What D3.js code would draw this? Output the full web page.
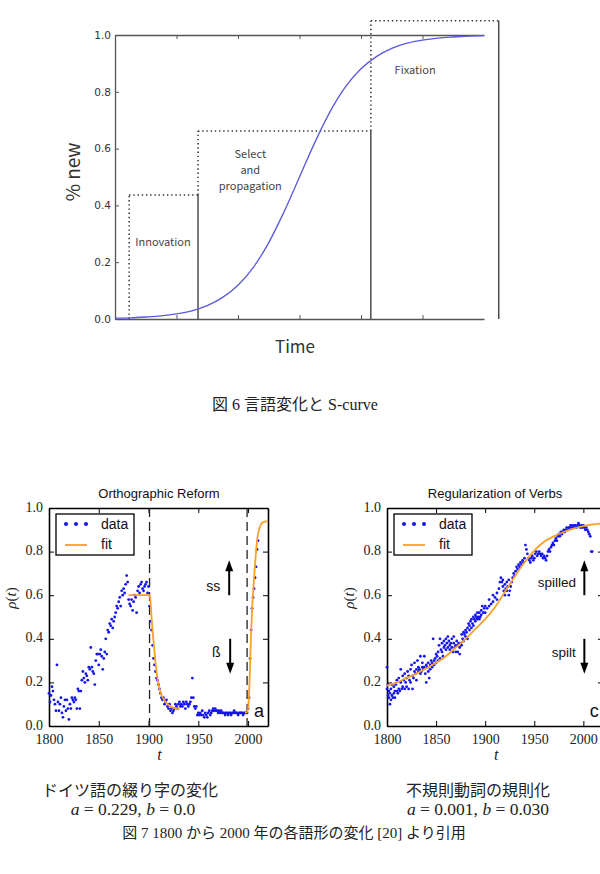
<!DOCTYPE html>
<html><head><meta charset="utf-8">
<script src="https://cdn.jsdelivr.net/npm/d3@7"></script>
<style>body{margin:0;background:#fff}</style>
</head><body><svg id="c" width="600" height="874" xmlns="http://www.w3.org/2000/svg"></svg>
<script>
// ---------- Figure 6: S-curve ----------
const sTimes  = [0,0.25,0.5,0.75,1,1.25,1.5,1.75,2,2.25,2.5,2.75,3,3.25,3.5,3.75,4,4.25,4.5,4.75,5,5.25,5.5,5.75,6];
const sValues = [0.003,0.004,0.007,0.011,0.018,0.029,0.047,0.076,0.119,0.182,0.269,0.378,0.5,0.622,0.731,0.818,0.881,0.924,0.953,0.971,0.982,0.989,0.993,0.996,0.998];
const sTicksY = [0,0.2,0.4,0.6,0.8,1.0];
const sTicksX = [1,2,3,4,5];
const stageEdges = [0.23,1.35,4.16,6.24];
const stageTops  = [0.437,0.662,1.05];
const stageLabels = [["Innovation"],["Select","and","propagation"],["Fixation"]];
const stageLabelPos = [[0.78,0.27],[2.2,0.58],[4.88,0.877]];

// ---------- Figure 7a: Orthographic Reform ----------
const ortData = [[1800,.15],[1801,.11],[1802,.14],[1803,.18],[1804,.16],[1805,.12],[1806,.10],[1807,.07],[1808,.28],[1809,.11],
[1810,.07],[1811,.10],[1812,.13],[1813,.06],[1814,.04],[1815,.09],[1816,.12],[1817,.07],[1818,.12],[1819,.08],
[1820,.03],[1821,.10],[1822,.08],[1823,.13],[1824,.12],[1825,.11],[1826,.13],[1827,.12],[1828,.08],[1829,.17],
[1830,.16],[1831,.08],[1832,.16],[1833,.21],[1834,.25],[1835,.22],[1836,.20],[1837,.24],[1838,.23],[1839,.21],
[1840,.27],[1841,.26],[1842,.36],[1843,.27],[1844,.25],[1845,.24],[1846,.19],[1847,.30],[1848,.33],[1849,.33],
[1850,.28],[1851,.33],[1852,.35],[1853,.32],[1854,.26],[1855,.31],[1856,.34],[1857,.40],[1858,.33],[1859,.44],
[1860,.43],[1861,.47],[1862,.46],[1863,.49],[1864,.45],[1865,.48],[1866,.50],[1867,.52],[1868,.55],[1869,.54],
[1870,.57],[1871,.59],[1872,.55],[1873,.62],[1874,.60],[1875,.63],[1876,.61],[1877,.65],[1878,.69],[1879,.66],
[1880,.58],[1881,.56],[1882,.55],[1883,.58],[1884,.53],[1885,.57],[1886,.60],[1887,.59],[1888,.52],[1889,.62],
[1890,.64],[1891,.61],[1892,.65],[1893,.66],[1894,.63],[1895,.62],[1896,.64],[1897,.65],[1898,.66],[1899,.61],
[1900,.64],[1901,.55],[1902,.48],[1903,.44],[1904,.37],[1905,.31],[1906,.28],[1907,.25],[1908,.22],[1909,.21],
[1910,.19],[1911,.17],[1912,.15],[1913,.13],[1914,.12],[1915,.13],[1916,.10],[1917,.11],[1918,.12],[1919,.09],
[1920,.08],[1921,.10],[1922,.07],[1923,.08],[1924,.06],[1925,.07],[1926,.08],[1927,.10],[1928,.09],[1929,.08],
[1930,.10],[1931,.11],[1932,.09],[1933,.10],[1934,.09],[1935,.11],[1936,.10],[1937,.08],[1938,.11],[1939,.10],
[1940,.09],[1941,.10],[1942,.11],[1943,.13],[1944,.22],[1945,.13],[1946,.09],[1947,.08],[1948,.09],[1949,.05],
[1950,.06],[1951,.05],[1952,.06],[1953,.05],[1954,.07],[1955,.05],[1956,.04],[1957,.06],[1958,.05],[1959,.04],
[1960,.06],[1961,.07],[1962,.05],[1963,.06],[1964,.07],[1965,.08],[1966,.07],[1967,.08],[1968,.07],[1969,.07],
[1970,.06],[1971,.07],[1972,.06],[1973,.07],[1974,.06],[1975,.06],[1976,.06],[1977,.05],[1978,.06],[1979,.06],
[1980,.05],[1981,.06],[1982,.06],[1983,.05],[1984,.06],[1985,.06],[1986,.07],[1987,.06],[1988,.06],[1989,.06],
[1990,.05],[1991,.06],[1992,.06],[1993,.06],[1994,.06],[1995,.05],[1996,.06],[1997,.06],[1998,.06],[1999,.06],
[2000,.08],[2001,.13],[2002,.31],[2003,.44],[2004,.54],[2005,.59],[2006,.63],[2007,.68],[2008,.73],[2009,.81],[2010,.85]];
const ortFitA = [[1880,.6],[1901,.6],[1902,.57],[1903,.50],[1904,.44],[1905,.39],[1906,.34],[1907,.29],[1908,.25],[1910,.19],[1912,.155],[1915,.125],[1918,.105],[1922,.09],[1926,.082],[1931,.08]];
const ortFitB = [[1997,.06],[1999,.065],[2000,.08],[2001,.15],[2002,.28],[2003,.42],[2004,.53],[2005,.61],[2006,.68],[2007,.74],[2008,.80],[2009,.85],[2010,.88],[2012,.915],[2015,.935],[2020,.94]];
const ortBreaks = [1901,1999];

// ---------- Figure 7c: Regularization of Verbs ----------
const regData = [[1800,.27],[1800,.17],[1801,.14],[1801,.19],[1802,.13],[1802,.16],[1803,.10],[1803,.15],[1804,.12],[1804,.17],
[1805,.14],[1805,.19],[1806,.13],[1807,.15],[1807,.18],[1808,.16],[1808,.13],[1809,.19],[1810,.16],[1810,.21],
[1811,.15],[1812,.17],[1812,.22],[1813,.16],[1814,.20],[1814,.26],[1815,.17],[1816,.23],[1816,.18],[1817,.21],
[1818,.24],[1818,.17],[1819,.20],[1820,.22],[1820,.18],[1821,.25],[1822,.17],[1822,.23],[1823,.21],[1824,.26],
[1824,.20],[1825,.28],[1826,.23],[1826,.17],[1827,.22],[1828,.25],[1828,.29],[1829,.24],[1830,.26],[1830,.21],
[1831,.30],[1832,.25],[1832,.27],[1833,.26],[1834,.32],[1834,.24],[1835,.25],[1836,.27],[1836,.29],[1837,.26],
[1838,.32],[1838,.27],[1839,.24],[1840,.20],[1840,.28],[1841,.27],[1842,.25],[1842,.29],[1843,.22],[1844,.28],
[1844,.26],[1845,.30],[1846,.27],[1846,.29],[1847,.40],[1848,.30],[1848,.28],[1849,.31],[1850,.29],[1850,.33],
[1851,.32],[1852,.30],[1852,.34],[1853,.37],[1854,.40],[1854,.31],[1855,.35],[1856,.34],[1856,.38],[1857,.32],
[1858,.36],[1858,.39],[1859,.37],[1860,.40],[1860,.35],[1861,.38],[1862,.36],[1862,.41],[1863,.39],[1864,.37],
[1864,.35],[1865,.38],[1866,.40],[1866,.36],[1867,.34],[1868,.38],[1868,.41],[1869,.36],[1870,.37],[1870,.34],
[1871,.39],[1872,.34],[1872,.37],[1873,.38],[1874,.36],[1874,.33],[1875,.38],[1876,.42],[1876,.37],[1877,.40],
[1878,.43],[1878,.39],[1879,.42],[1880,.44],[1880,.41],[1881,.43],[1882,.40],[1882,.45],[1883,.47],[1884,.44],
[1884,.46],[1885,.48],[1886,.45],[1886,.49],[1887,.47],[1888,.50],[1888,.46],[1889,.49],[1890,.48],[1890,.51],
[1891,.50],[1892,.49],[1892,.52],[1893,.50],[1894,.52],[1894,.49],[1895,.50],[1896,.53],[1896,.51],[1897,.55],
[1898,.52],[1899,.54],[1900,.52],[1900,.55],[1902,.54],[1904,.55],[1904,.58],[1906,.56],[1908,.60],[1908,.57],
[1910,.59],[1912,.61],[1912,.58],[1914,.63],[1915,.66],[1916,.68],[1917,.66],[1918,.64],[1918,.67],[1919,.62],
[1920,.65],[1920,.60],[1921,.63],[1922,.66],[1922,.62],[1923,.64],[1924,.67],[1924,.60],[1925,.62],[1926,.64],
[1927,.66],[1928,.68],[1929,.70],[1930,.69],[1931,.71],[1932,.73],[1933,.72],[1934,.74],[1935,.73],[1936,.75],
[1937,.74],[1938,.76],[1939,.75],[1940,.77],[1941,.83],[1942,.81],[1943,.79],[1944,.77],[1945,.76],[1946,.75],
[1947,.77],[1948,.78],[1949,.76],[1950,.77],[1951,.79],[1952,.80],[1953,.78],[1954,.79],[1955,.80],[1956,.79],
[1957,.78],[1958,.79],[1959,.77],[1960,.78],[1961,.77],[1962,.76],[1963,.78],[1964,.80],[1965,.81],[1966,.80],
[1967,.82],[1968,.83],[1969,.84],[1970,.83],[1971,.85],[1972,.86],[1973,.85],[1974,.87],[1975,.88],[1976,.87],
[1977,.89],[1978,.88],[1979,.89],[1980,.90],[1981,.89],[1982,.90],[1983,.91],[1984,.90],[1985,.91],[1986,.91],
[1987,.92],[1988,.91],[1989,.92],[1990,.91],[1991,.92],[1992,.92],[1993,.91],[1994,.92],[1995,.93],[1996,.92],
[1997,.91],[1998,.92],[1999,.91],[2000,.92],[2001,.91],[2002,.90],[2003,.91],[2004,.90],[2005,.89],[2006,.88],
[2007,.87],[2008,.80],[2009,.80]];
const regFit = [[1800,.185],[1810,.20],[1820,.22],[1830,.24],[1840,.265],[1850,.29],[1860,.32],[1870,.36],[1880,.40],[1890,.445],[1900,.49],[1910,.545],[1920,.615],[1930,.685],[1940,.75],[1950,.805],[1960,.845],[1970,.87],[1980,.89],[1990,.905],[2000,.917],[2010,.925],[2020,.93]];

const panelYTicks = [0,0.2,0.4,0.6,0.8,1.0];
const panelXTicks = [1800,1850,1900,1950,2000];

const svg = d3.select("#c");
svg.append("rect").attr("width",600).attr("height",874).attr("fill","#fff");

// ================= Top chart =================
const sx = d3.scaleLinear().domain([0,6]).range([115,484]);
const sy = d3.scaleLinear().domain([0,1]).range([319,35]);
const gTop = svg.append("g");
const styleAxis = (g, col, w) => {
  g.select(".domain").attr("stroke",col).attr("stroke-width",w);
  g.selectAll(".tick line").attr("stroke",col).attr("stroke-width",1);
};
gTop.append("g").attr("transform","translate(0,319)")
  .call(d3.axisBottom(sx).tickValues(sTicksX).tickSize(-4).tickSizeOuter(0).tickFormat(""))
  .call(g=>styleAxis(g,"#555",1.3));
gTop.append("g").attr("transform","translate(0,35)")
  .call(d3.axisTop(sx).tickValues(sTicksX).tickSize(-4).tickSizeOuter(0).tickFormat(""))
  .call(g=>styleAxis(g,"#555",1.3));
gTop.append("g").attr("transform","translate(115,0)")
  .call(d3.axisLeft(sy).tickValues(sTicksY).tickFormat(d3.format(".1f")).tickSize(-4).tickSizeOuter(0).tickPadding(4))
  .call(g=>styleAxis(g,"#555",1.3))
  .call(g=>g.selectAll("text").attr("fill","#333").attr("font-size",10.5).attr("font-family","'DejaVu Sans', sans-serif"));

stageTops.forEach((t,i)=>{
  const x0 = stageEdges[i], x1 = stageEdges[i+1];
  const prev = i===0 ? 0 : stageTops[i-1];
  const dotted = {stroke:"#333","stroke-width":1.5,"stroke-dasharray":"1.4,2.8"};
  const l1 = gTop.append("line").attr("x1",sx(x0)).attr("x2",sx(x0)).attr("y1",sy(prev)).attr("y2",sy(t));
  const l2 = gTop.append("line").attr("x1",sx(x0)).attr("x2",sx(x1)).attr("y1",sy(t)).attr("y2",sy(t));
  [l1,l2].forEach(l=>Object.entries(dotted).forEach(([k,v])=>l.attr(k,v)));
  gTop.append("line").attr("x1",sx(x1)).attr("x2",sx(x1)).attr("y1",sy(0)).attr("y2",sy(t))
    .attr("stroke","#333").attr("stroke-width",1.3);
  const lab = stageLabels[i], p = stageLabelPos[i];
  lab.forEach((s,j)=>{
    gTop.append("text").attr("x",sx(p[0])).attr("y",sy(p[1])+j*16).attr("dy","0.35em")
      .attr("text-anchor","middle").attr("font-size",11).attr("fill","#444")
      .attr("font-family","'Noto Sans CJK JP','Noto Sans',sans-serif").text(s);
  });
});

gTop.append("path").datum(d3.zip(sTimes,sValues))
  .attr("d",d3.line().x(d=>sx(d[0])).y(d=>sy(d[1])).curve(d3.curveMonotoneX))
  .attr("fill","none").attr("stroke","#5858e0").attr("stroke-width",1.3);

gTop.append("text").attr("transform","translate(80,172) rotate(-90)").attr("text-anchor","middle")
  .attr("font-size",19).attr("fill","#333").attr("font-family","'Noto Sans CJK JP','Noto Sans',sans-serif").text("% new");
gTop.append("text").attr("x",295).attr("y",353).attr("text-anchor","middle")
  .attr("font-size",17).attr("fill","#333").attr("font-family","'Noto Sans CJK JP','Noto Sans',sans-serif").text("Time");

svg.append("text").attr("x",295).attr("y",410).attr("text-anchor","middle").attr("font-size",16).attr("fill","#222")
  .attr("font-family","'Liberation Serif','Noto Sans CJK JP',serif").text("図 6 言語変化と S-curve");

// ================= Bottom panels =================
function panel(o){
  const x = d3.scaleLinear().domain([1800,2020]).range(o.xr);
  const y = d3.scaleLinear().domain([0,1]).range([726,508]);
  const g = svg.append("g");
  const serif = "'Liberation Serif','DejaVu Serif',serif";
  const sans = "'Liberation Sans',Arial,sans-serif";
  g.append("g").attr("transform","translate(0,726)")
    .call(d3.axisBottom(x).tickValues(panelXTicks).tickFormat(d3.format("d")).tickSize(-5).tickSizeOuter(0).tickPadding(8))
    .call(a=>styleAxis(a,"#000",1.6))
    .call(a=>a.selectAll("text").attr("font-size",14).attr("fill","#222").attr("font-family",serif));
  g.append("g").attr("transform","translate(0,508)")
    .call(d3.axisTop(x).tickValues(panelXTicks).tickFormat("").tickSize(-5).tickSizeOuter(0))
    .call(a=>styleAxis(a,"#000",1.6));
  g.append("g").attr("transform",`translate(${o.xr[0]},0)`)
    .call(d3.axisLeft(y).tickValues(panelYTicks).tickFormat(d3.format(".1f")).tickSize(-5).tickSizeOuter(0).tickPadding(6))
    .call(a=>styleAxis(a,"#000",1.6))
    .call(a=>a.selectAll("text").attr("font-size",14).attr("fill","#222").attr("font-family",serif).attr("dy","0.22em"));
  g.append("g").attr("transform",`translate(${o.xr[1]},0)`)
    .call(d3.axisRight(y).tickValues(panelYTicks).tickFormat("").tickSize(-5).tickSizeOuter(0))
    .call(a=>styleAxis(a,"#000",1.6));

  (o.breaks||[]).forEach(b=>{
    g.append("line").attr("x1",x(b)).attr("x2",x(b)).attr("y1",y(1)).attr("y2",y(0))
      .attr("stroke","#222").attr("stroke-width",1.3).attr("stroke-dasharray","9,5");
  });
  g.append("g").selectAll("circle").data(o.data).join("circle")
    .attr("cx",d=>x(d[0])).attr("cy",d=>y(d[1])).attr("r",1.4).attr("fill","#1414ee");
  const line = d3.line().x(d=>x(d[0])).y(d=>y(d[1])).curve(d3.curveMonotoneX);
  o.fits.forEach(f=>g.append("path").datum(f).attr("d",line).attr("fill","none")
    .attr("stroke","#f7a128").attr("stroke-width",1.8));

  g.append("text").attr("x",o.titleX).attr("y",498).attr("text-anchor","middle").attr("font-size",13)
    .attr("fill","#111").attr("font-family",sans).text(o.title);
  g.append("text").attr("transform",`translate(${o.xr[0]-33},598) rotate(-90)`).attr("text-anchor","middle")
    .attr("font-size",15).attr("fill","#222").attr("font-family",serif)
    .call(t=>{t.append("tspan").attr("font-style","italic").text("ρ");t.append("tspan").text("(");
              t.append("tspan").attr("font-style","italic").text("t");t.append("tspan").text(")");});
  g.append("text").attr("x",(o.xr[0]+x(2000))/2+11).attr("y",760).attr("text-anchor","middle").attr("font-size",16)
    .attr("font-style","italic").attr("fill","#222").attr("font-family",serif).text("t");

  const lx = o.xr[0]+7, ly = 514;
  g.append("rect").attr("x",lx).attr("y",ly).attr("width",78).attr("height",41)
    .attr("fill","#fff").attr("stroke","#000").attr("stroke-width",1.3);
  [10,20,30].forEach(dx=>g.append("circle").attr("cx",lx+dx).attr("cy",ly+10).attr("r",2).attr("fill","#1414ee"));
  g.append("line").attr("x1",lx+9).attr("x2",lx+31).attr("y1",ly+31).attr("y2",ly+31).attr("stroke","#f7a128").attr("stroke-width",1.8);
  g.append("text").attr("x",lx+45).attr("y",ly+15).attr("font-size",14).attr("font-family",sans).attr("fill","#111").text("data");
  g.append("text").attr("x",lx+45).attr("y",ly+35).attr("font-size",14).attr("font-family",sans).attr("fill","#111").text("fit");

  o.notes.forEach(n=>{
    g.append("text").attr("x",x(n[0])).attr("y",y(n[1])).attr("dy","0.35em").attr("text-anchor","middle")
      .attr("font-size",n[3]).attr("font-family",sans).attr("fill","#111").text(n[2]);
  });
  o.arrows.forEach(a=>{
    const ax = x(a[0]), y0 = y(a[1]), y1 = y(a[2]);
    const dir = y1 < y0 ? 1 : -1;
    g.append("line").attr("x1",ax).attr("x2",ax).attr("y1",y0).attr("y2",y1+dir*8)
      .attr("stroke","#000").attr("stroke-width",2);
    g.append("path").attr("d",`M${ax},${y1} L${ax-4},${y1+dir*11} L${ax+4},${y1+dir*11} Z`).attr("fill","#000");
  });
}

panel({xr:[49,268], data:ortData, fits:[ortFitA,ortFitB], breaks:ortBreaks, title:"Orthographic Reform", titleX:159,
  notes:[[1965,0.64,"ss",14],[1968,0.34,"ß",14],[2011,0.07,"a",18]],
  arrows:[[1981,0.60,0.76],[1982,0.40,0.24]]});
panel({xr:[387,603], data:regData, fits:[regFit], breaks:[], title:"Regularization of Verbs", titleX:495,
  notes:[[1973,0.66,"spilled",13.5],[1980,0.34,"spilt",13.5],[2011,0.07,"c",18]],
  arrows:[[2001,0.60,0.76],[2001,0.40,0.24]]});

const cap = "'Liberation Serif','Noto Sans CJK JP',serif";
svg.append("text").attr("x",130).attr("y",796).attr("text-anchor","middle").attr("font-size",16).attr("fill","#222")
  .attr("font-family",cap).text("ドイツ語の綴り字の変化");
svg.append("text").attr("x",478).attr("y",796).attr("text-anchor","middle").attr("font-size",16).attr("fill","#222")
  .attr("font-family",cap).text("不規則動詞の規則化");
function eq(xc, s1, s2){
  const t = svg.append("text").attr("x",xc).attr("y",815).attr("text-anchor","middle").attr("font-size",17.5)
    .attr("fill","#222").attr("font-family","'Liberation Serif',serif");
  t.append("tspan").attr("font-style","italic").text("a");
  t.append("tspan").text(" = "+s1+", ");
  t.append("tspan").attr("font-style","italic").text("b");
  t.append("tspan").text(" = "+s2);
}
eq(133,"0.229","0.0");
eq(478,"0.001","0.030");
svg.append("text").attr("x",294).attr("y",838).attr("text-anchor","middle").attr("font-size",15).attr("fill","#222")
  .attr("font-family",cap).text("図 7 1800 から 2000 年の各語形の変化 [20] より引用");
</script></body></html>
